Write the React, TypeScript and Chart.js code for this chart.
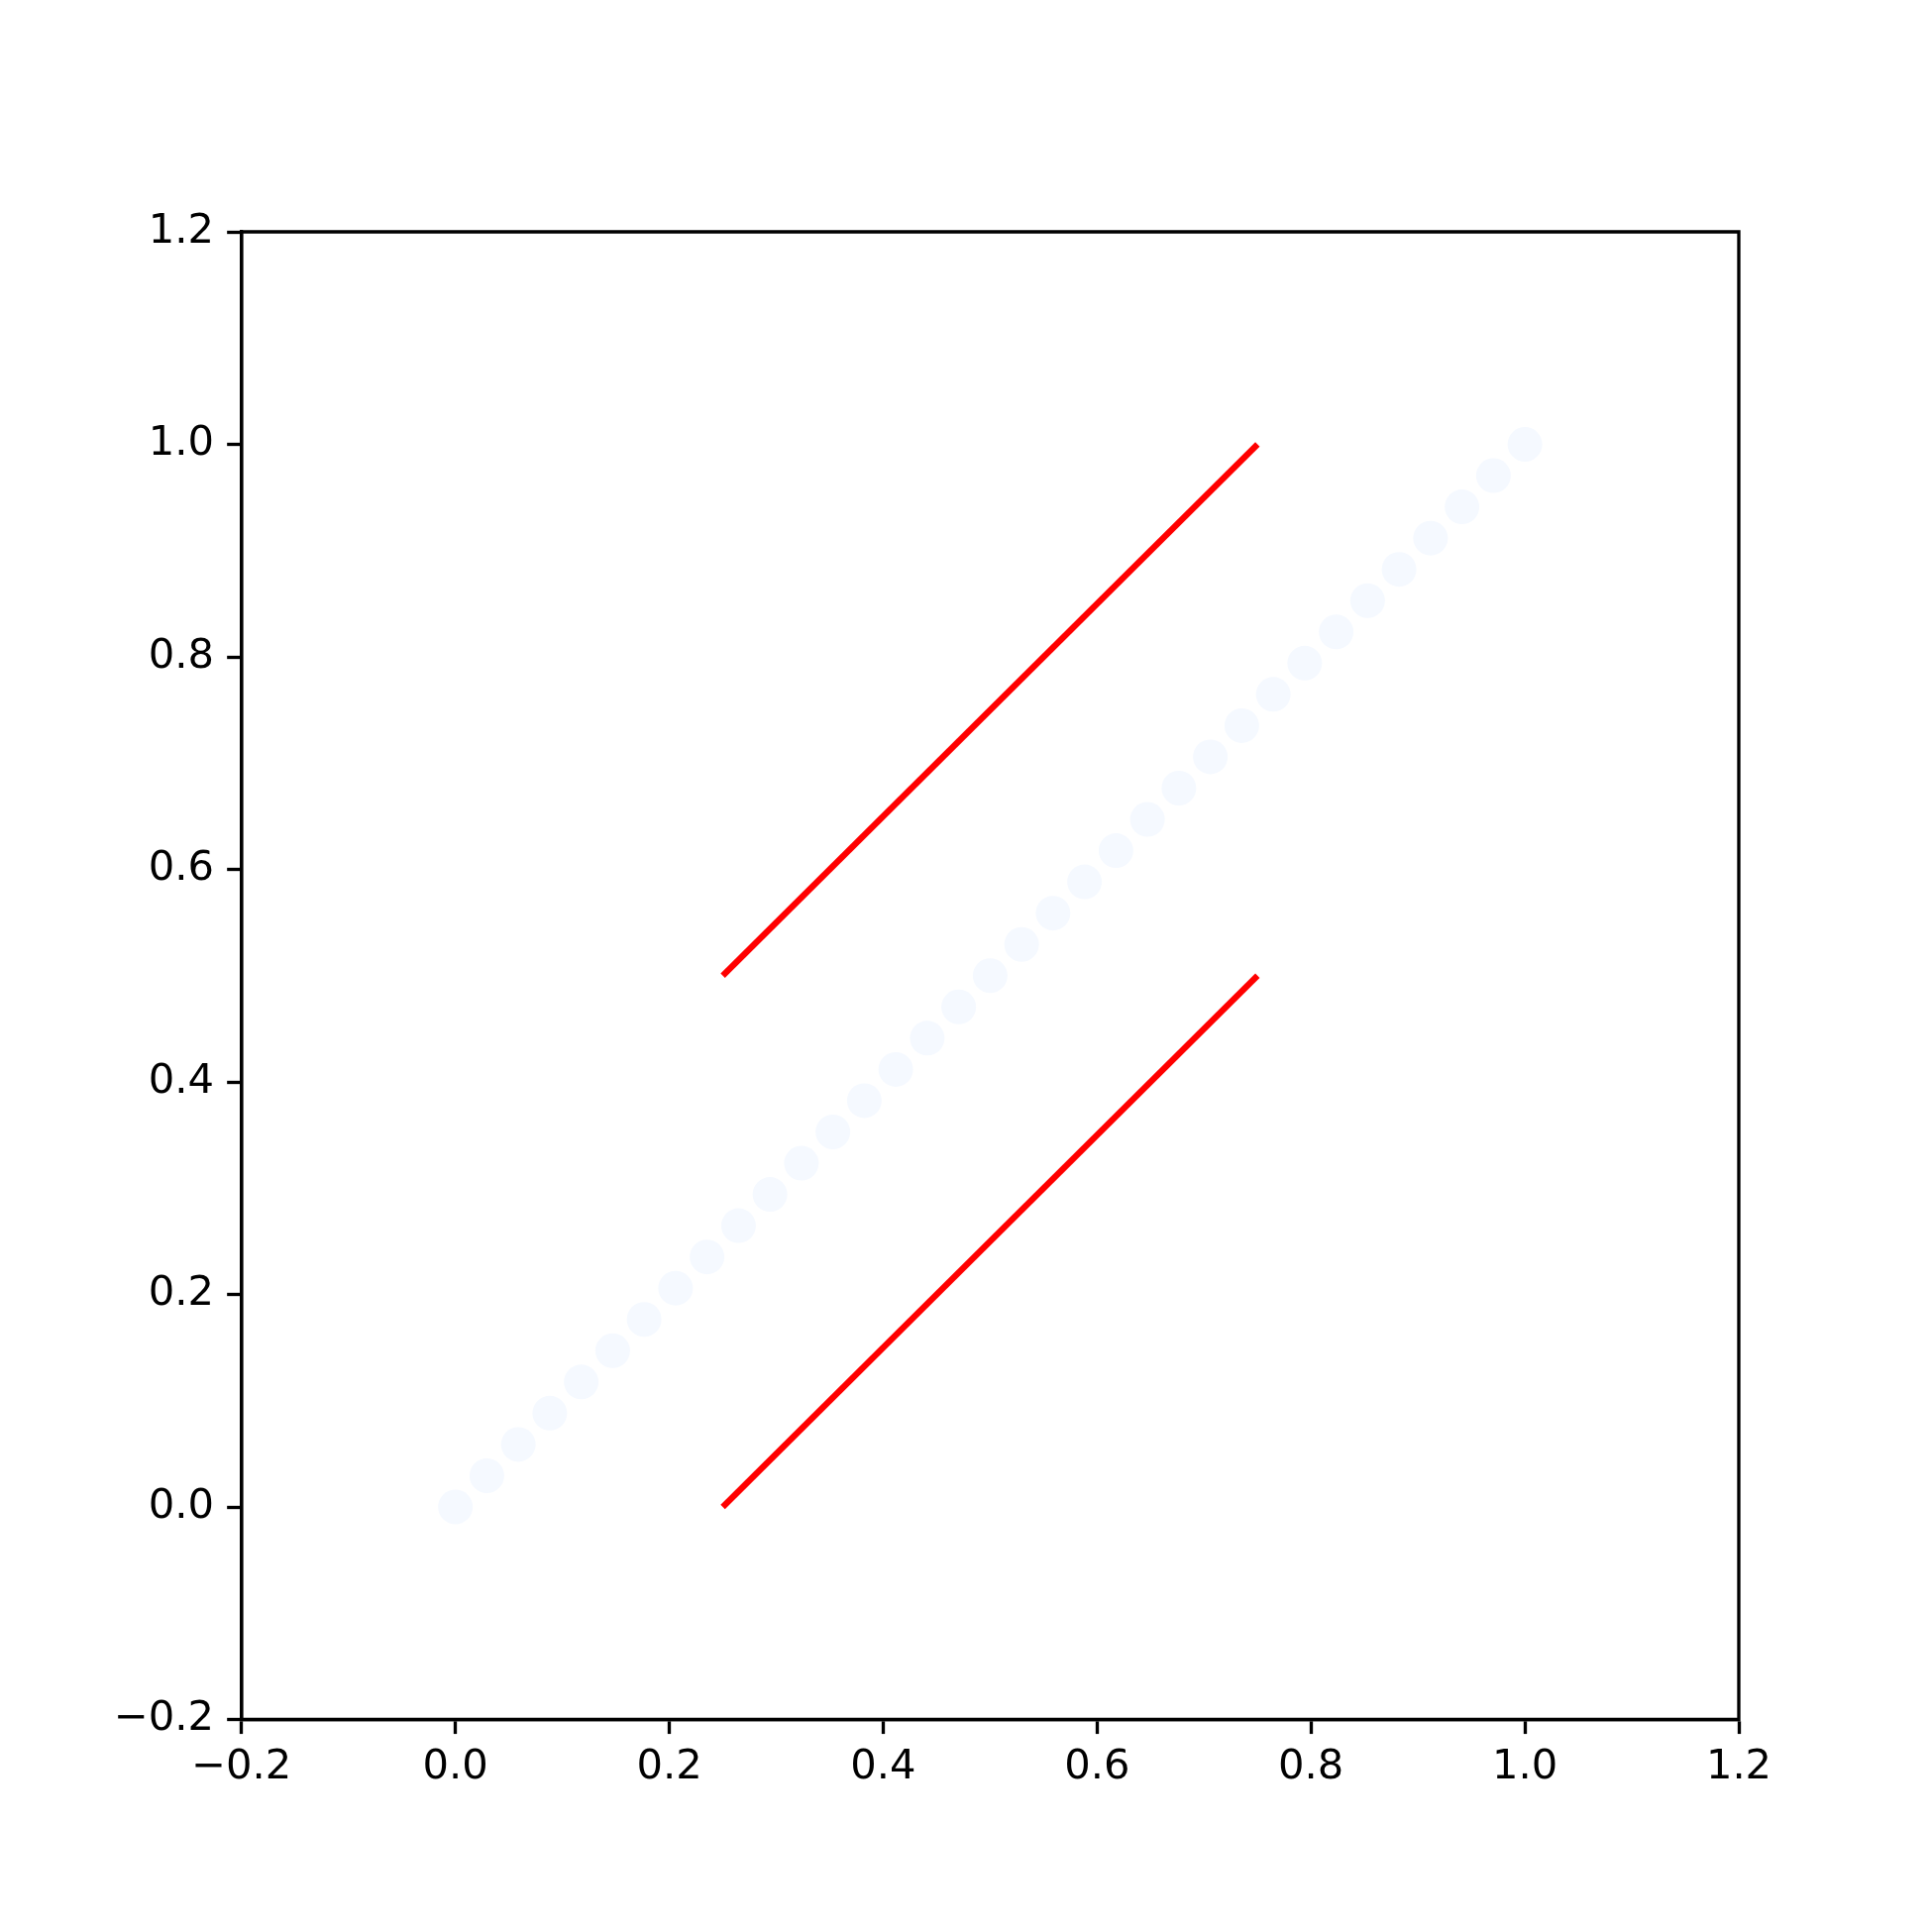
import React, { useEffect, useRef } from "react";
import { Chart, registerables } from "chart.js";

Chart.register(...registerables);

const dotValues = [
  0, 0.02941, 0.05882, 0.08824, 0.11765, 0.14706, 0.17647, 0.20588, 0.23529,
  0.26471, 0.29412, 0.32353, 0.35294, 0.38235, 0.41176, 0.44118, 0.47059, 0.5,
  0.52941, 0.55882, 0.58824, 0.61765, 0.64706, 0.67647, 0.70588, 0.73529,
  0.76471, 0.79412, 0.82353, 0.85294, 0.88235, 0.91176, 0.94118, 0.97059, 1,
];
const segX = [0.25, 0.75];
const upperSegY = [0.5, 1.0];
const lowerSegY = [0.0, 0.5];
const tickValues = [-0.2, 0, 0.2, 0.4, 0.6, 0.8, 1.0, 1.2];

const W = 1950;
const H = 1950;
const LEFT = 243.75;
const RIGHT = 1755;
const TOP = 234;
const BOTTOM = 1735.5;
const PT = 300 / 72;
const FONT = { family: "'DejaVu Sans', sans-serif", size: 10 * PT };

const fmt = (v: number) => {
  const s = (Math.round(v * 10) / 10).toFixed(1);
  return s.startsWith("-") ? "\u2212" + s.slice(1) : s;
};

const framePlugin = {
  id: "frame",
  afterDatasetsDraw(chart: any) {
    const { ctx, chartArea } = chart;
    ctx.save();
    ctx.strokeStyle = "#000";
    ctx.lineWidth = 0.8 * PT;
    ctx.lineCap = "square";
    ctx.beginPath();
    ctx.moveTo(chartArea.left, chartArea.bottom);
    ctx.lineTo(chartArea.left, chartArea.top);
    ctx.lineTo(chartArea.right, chartArea.top);
    ctx.lineTo(chartArea.right, chartArea.bottom);
    ctx.closePath();
    ctx.stroke();
    ctx.restore();
  },
};

export default function App() {
  const ref = useRef<HTMLCanvasElement | null>(null);

  useEffect(() => {
    if (!ref.current) return;
    const axisCommon = (isX: boolean) => ({
      type: "linear" as const,
      min: -0.2,
      max: 1.2,
      afterBuildTicks: (scale: any) => {
        scale.ticks = tickValues.map((v) => ({ value: v }));
      },
      afterFit: (scale: any) => {
        if (isX) scale.height = H - BOTTOM;
        else scale.width = LEFT;
      },
      border: { display: true, color: "#000", width: 0.8 * PT },
      grid: {
        display: true,
        drawOnChartArea: false,
        drawTicks: true,
        tickLength: 3.5 * PT,
        tickWidth: 0.8 * PT,
        tickColor: "#000",
      },
      ticks: {
        color: "#000",
        font: FONT,
        padding: isX ? 3.5 * PT - 5 : 3.5 * PT - 1.5,
        maxRotation: 0,
        autoSkip: false,
        callback: (v: any) => fmt(Number(v)),
      },
    });

    const chart = new Chart(ref.current, {
      type: "scatter",
      data: {
        datasets: [
          {
            data: dotValues.map((v) => ({ x: v, y: v })),
            backgroundColor: "#f5f9ff",
            borderWidth: 0,
            pointRadius: 17.5,
            pointHoverRadius: 17.5,
          },
          {
            data: segX.map((x, i) => ({ x, y: upperSegY[i] })),
            showLine: true,
            borderColor: "#ff0000",
            borderWidth: 1.5 * PT,
            borderCapStyle: "butt",
            pointRadius: 0,
          },
          {
            data: segX.map((x, i) => ({ x, y: lowerSegY[i] })),
            showLine: true,
            borderColor: "#ff0000",
            borderWidth: 1.5 * PT,
            borderCapStyle: "butt",
            pointRadius: 0,
          },
        ],
      },
      options: {
        responsive: false,
        animation: false,
        devicePixelRatio: 1,
        layout: { padding: { left: 0, top: TOP, right: W - RIGHT, bottom: 0 } },
        plugins: {
          legend: { display: false },
          tooltip: { enabled: false },
          title: { display: false },
        },
        scales: {
          x: { ...axisCommon(true), position: "bottom" },
          y: { ...axisCommon(false), position: "left" },
        },
      } as any,
      plugins: [framePlugin],
    });
    return () => chart.destroy();
  }, []);

  return (
    <div style={{ position: "fixed", left: 0, top: 0, width: W, height: H, background: "#fff" }}>
      <canvas ref={ref} width={W} height={H} style={{ width: W, height: H, display: "block" }} />
    </div>
  );
}
